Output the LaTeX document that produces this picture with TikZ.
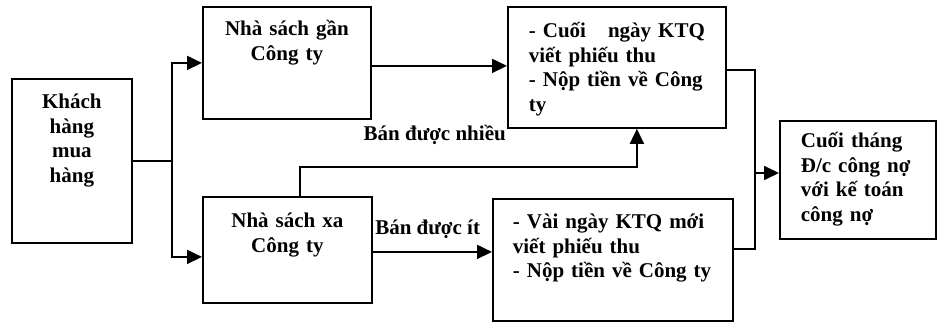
\documentclass[tikz,border=0pt]{standalone}
\usepackage{fontspec}
\setmainfont{Liberation Serif}
\usetikzlibrary{arrows.meta}

\begin{document}
\begin{tikzpicture}[
    x=1pt, y=-1pt,
    font=\fontsize{21}{24.5}\selectfont\bfseries,
    line width=1.8pt,
    blk/.style={draw, anchor=north west, inner ysep=0pt},
    mid/.style={blk, align=center, inner xsep=0pt},
    lft/.style={blk, align=left, inner xsep=#1},
    arr/.style={-{Triangle[length=15pt,width=14pt]}},
    lbl/.style={anchor=base, inner sep=0pt}
  ]
  \useasboundingbox (0,0) rectangle (937,322);

  % Customer and the two bookshops
  \node[mid, text width=120pt, text height=30pt, text depth=134pt] (khach) at (11,78) {Khách\\hàng\\mua\\hàng};
  \node[mid, text width=168pt, text height=29pt, text depth=83pt] (gan) at (202,6) {Nhà sách gần\\Công ty};
  \node[mid, text width=169pt, text height=31pt, text depth=75pt] (xa) at (202,196) {Nhà sách xa\\Công ty};

  % Cashier steps
  \node[lft=21pt, text width=176pt, text height=31pt, text depth=90pt] (cuoingay) at (507,6) {- Cuối\hfill ngày KTQ\\viết phiếu thu\\- Nộp tiền về Công\\ty};
  \node[lft=20pt, text width=200pt, text height=30pt, text depth=92pt] (vaingay) at (492,198) {- Vài ngày KTQ mới\\viết phiếu thu\\- Nộp tiền về Công ty};

  % Month-end check
  \node[lft=21pt, text width=114pt, text height=27pt, text depth=91pt] (cuoithang) at (779,120) {Cuối tháng\\Đ/c công nợ\\với kế toán\\công nợ};

  % Customer to the bookshops
  \draw (khach.east) -- ++(39,0) coordinate (fork);
  \draw[arr] (fork) |- (gan.west);
  \draw[arr] (fork) |- ([yshift=-7pt]xa.west);

  % Bookshops to the cashier steps
  \draw[arr] ([yshift=-3pt]gan.east) -- ([yshift=-3pt]gan.east -| cuoingay.west);
  \draw[arr] ([yshift=-2pt]xa.east) -- ([yshift=-2pt]xa.east -| vaingay.west) node[lbl, pos=0.46, yshift=17pt] {Bán được ít};
  \draw[arr] ([xshift=12.5pt]xa.north) -- ++(0,-29) -| ([xshift=20pt]cuoingay.south) node[lbl, pos=0.2, yshift=27pt] {Bán được nhiều};

  % Both steps end at the month-end check
  \coordinate (bus) at (755,173);
  \draw ([yshift=-2.5pt]cuoingay.east) -| (bus) |- ([yshift=11pt]vaingay.east);
  \draw[arr] (bus) -- (bus -| cuoithang.west);
\end{tikzpicture}
\end{document}
